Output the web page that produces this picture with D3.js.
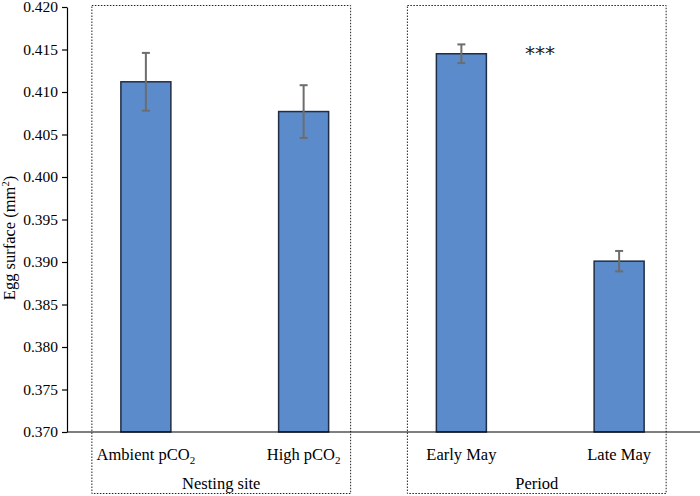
<!DOCTYPE html>
<html>
<head>
<meta charset="utf-8">
<script src="https://cdn.jsdelivr.net/npm/d3@7"></script>
<style>
  body { margin: 0; background: #fff; }
  text { font-family: "Liberation Serif", "Times New Roman", serif; fill: #000; }
</style>
</head>
<body>
<div id="chart"></div>
<script>
// data
const categories = ["Ambient pCO2", "High pCO2", "Early May", "Late May"];
const means = [0.4112, 0.4077, 0.4145, 0.3901];
const errors = [0.0034, 0.0031, 0.0011, 0.0012];
const groups = ["Nesting site", "Period"];
const groupMembers = [["Ambient pCO2", "High pCO2"], ["Early May", "Late May"]];
const yTicks = [0.370, 0.375, 0.380, 0.385, 0.390, 0.395, 0.400, 0.405, 0.410, 0.415, 0.420];

const width = 700, height = 496;
const margin = {left: 67, right: 2, top: 7, bottom: 64};

const svg = d3.select("#chart").append("svg")
  .attr("width", width)
  .attr("height", height);

const x = d3.scaleBand()
  .domain(categories)
  .range([margin.left, width - margin.right]);

const y = d3.scaleLinear()
  .domain([0.370, 0.420])
  .range([height - margin.bottom, margin.top]);

const barW = 50;

// dotted group boxes
groupMembers.forEach((m, gi) => {
  const x0 = x(m[0]) + x.bandwidth() / 2 - 54;
  const x1 = x(m[1]) + x.bandwidth() / 2 + 47;
  svg.append("rect")
    .attr("x", x0)
    .attr("y", 5.5)
    .attr("width", x1 - x0)
    .attr("height", 488)
    .attr("fill", "none")
    .attr("stroke", "#222")
    .attr("stroke-width", 1)
    .attr("stroke-dasharray", "1.5,1.5");
  svg.append("text")
    .attr("x", (x0 + x1) / 2)
    .attr("y", 489)
    .attr("text-anchor", "middle")
    .style("font-size", "16.5px")
    .text(groups[gi]);
});

// bars
svg.selectAll(".bar")
  .data(categories)
  .enter().append("rect")
  .attr("class", "bar")
  .attr("x", d => x(d) + x.bandwidth() / 2 - barW / 2)
  .attr("y", (d, i) => y(means[i]))
  .attr("width", barW)
  .attr("height", (d, i) => y(0.370) - y(means[i]))
  .attr("fill", "#5b8bca")
  .attr("stroke", "#1f2d45")
  .attr("stroke-width", 1.5);

// error bars
categories.forEach((c, i) => {
  const cx = x(c) + x.bandwidth() / 2;
  const top = y(means[i] + errors[i]);
  const bot = y(means[i] - errors[i]);
  const g = svg.append("g")
    .attr("stroke", "#6d6d6d")
    .attr("stroke-width", 2);
  g.append("line").attr("x1", cx).attr("x2", cx).attr("y1", top).attr("y2", bot);
  g.append("line").attr("x1", cx - 4).attr("x2", cx + 4).attr("y1", top).attr("y2", top);
  g.append("line").attr("x1", cx - 4).attr("x2", cx + 4).attr("y1", bot).attr("y2", bot);
});

// y axis
const yAxis = svg.append("g")
  .attr("transform", `translate(${margin.left},0)`)
  .call(d3.axisLeft(y).tickValues(yTicks).tickFormat(d3.format(".3f")).tickSize(5).tickSizeOuter(0));
yAxis.select(".domain").attr("stroke", "#000").attr("stroke-width", 1.2);
yAxis.selectAll(".tick line").attr("stroke", "#000").attr("stroke-width", 1.2);
yAxis.selectAll(".tick text")
  .attr("x", -9)
  .style("font-family", "'Liberation Serif', 'Times New Roman', serif")
  .style("font-size", "15.5px");

// x baseline
svg.append("line")
  .attr("x1", margin.left)
  .attr("x2", width)
  .attr("y1", y(0.370))
  .attr("y2", y(0.370))
  .attr("stroke", "#000")
  .attr("stroke-width", 1.2);

// category labels with subscript
categories.forEach(c => {
  const t = svg.append("text")
    .attr("x", x(c) + x.bandwidth() / 2)
    .attr("y", 460)
    .attr("text-anchor", "middle")
    .style("font-size", "16.5px");
  if (c.endsWith("CO2")) {
    t.append("tspan").text(c.slice(0, -1));
    t.append("tspan").attr("dy", 4).style("font-size", "11px").text("2");
  } else {
    t.text(c);
  }
});

// y title
const yt = svg.append("text")
  .attr("transform", "translate(15,238) rotate(-90)")
  .attr("text-anchor", "middle")
  .style("font-size", "16.5px");
yt.append("tspan").text("Egg surface (mm");
yt.append("tspan").attr("dy", -6).style("font-size", "10.5px").text("2");
yt.append("tspan").attr("dy", 6).text(")");

// significance stars
svg.append("text")
  .attr("x", 540)
  .attr("y", 60)
  .attr("text-anchor", "middle")
  .style("font-family", "'DejaVu Sans', sans-serif")
  .style("font-size", "20px")
  .style("fill", "#222")
  .text("***");
</script>
</body>
</html>
